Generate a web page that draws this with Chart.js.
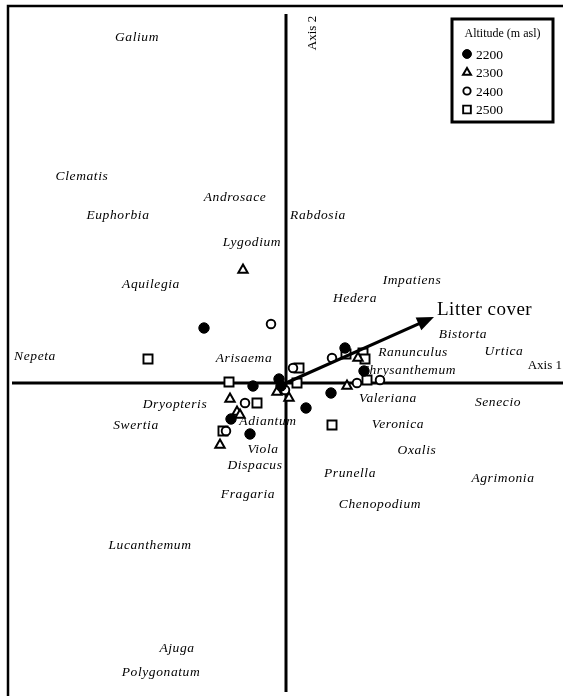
<!DOCTYPE html>
<html><head><meta charset="utf-8">
<script src="https://cdn.jsdelivr.net/npm/chart.js@4/dist/chart.umd.min.js"></script>
<style>html,body{margin:0;padding:0;background:#fff}canvas{display:block}</style>
</head><body>
<canvas id="c" width="563" height="696"></canvas>
<script>
// CCA ordination scores: sites grouped by altitude, species centroids, one environmental vector
const altitudes = ['2200', '2300', '2400', '2500'];

const sites2200 = [[-0.82,0.55],[-0.07,0.04],[-0.05,-0.03],[-0.33,-0.03],[0.59,0.35],[0.78,0.12],[0.45,-0.10],[0.20,-0.25],[-0.55,-0.36],[-0.36,-0.51]];
const sites2300 = [[-0.43,1.13],[-0.56,-0.16],[-0.49,-0.29],[-0.46,-0.32],[-0.66,-0.62],[-0.09,-0.09],[0.03,-0.15],[0.61,-0.03],[0.72,0.25]];
const sites2400 = [[-0.15,0.59],[-0.41,-0.20],[0.46,0.25],[0.71,0.00],[0.94,0.03],[0.07,0.15],[-0.01,-0.07],[-0.60,-0.48]];
const sites2500 = [[-1.38,0.24],[-0.57,0.01],[-0.29,-0.20],[0.13,0.15],[0.11,0.00],[0.77,0.30],[0.79,0.24],[0.81,0.03],[0.46,-0.42],[-0.63,-0.48],[0.60,0.29]];

const speciesNames = ['Galium','Clematis','Androsace','Euphorbia','Rabdosia','Lygodium','Impatiens','Aquilegia','Hedera','Bistorta','Nepeta','Arisaema','Ranunculus','Urtica','Chrysanthemum','Dryopteris','Valeriana','Senecio','Swertia','Adiantum','Veronica','Viola','Oxalis','Dispacus','Prunella','Agrimonia','Fragaria','Chenopodium','Lucanthemum','Ajuga','Polygonatum'];
const speciesX = [-1.49,-2.04,-0.51,-1.68,0.32,-0.34,1.26,-1.35,0.69,1.77,-2.51,-0.42,1.27,2.18,1.22,-1.11,1.02,2.12,-1.50,-0.18,1.12,-0.23,1.31,-0.31,0.64,2.17,-0.38,0.94,-1.36,-1.09,-1.25];
const speciesY = [3.46,2.07,1.86,1.68,1.68,1.41,1.03,0.99,0.85,0.49,0.27,0.25,0.31,0.32,0.13,-0.21,-0.15,-0.19,-0.42,-0.38,-0.41,-0.66,-0.67,-0.82,-0.90,-0.95,-1.11,-1.21,-1.62,-2.65,-2.89];

const envName = 'Litter cover';
const envVector = [1.48, 0.66];

const axis1Extent = [-2.74, 2.77];
const axis2Extent = [-3.09, 3.69];

const toPts = arr => arr.map(p => ({x: p[0], y: p[1]}));
const SERIF = '"Liberation Serif", "DejaVu Serif", serif';

const markerStyles = [
  {pointStyle: 'circle', radius: 5.2, bg: '#000', bw: 1},
  {pointStyle: 'triangle', radius: 5.4, bg: '#fff', bw: 2},
  {pointStyle: 'circle', radius: 4.3, bg: '#fff', bw: 1.9},
  {pointStyle: 'rect', radius: 6.4, bg: '#fff', bw: 1.9}
];
const siteGroups = [sites2200, sites2300, sites2400, sites2500];

const siteDatasets = siteGroups.map((g, i) => ({
  type: 'scatter',
  label: altitudes[i],
  data: toPts(g),
  pointStyle: markerStyles[i].pointStyle,
  pointRadius: markerStyles[i].radius,
  pointBackgroundColor: markerStyles[i].bg,
  pointBorderColor: '#000',
  pointBorderWidth: markerStyles[i].bw,
  order: 2
}));

const axisDatasets = [
  {type: 'line', data: [{x: axis1Extent[0], y: 0}, {x: axis1Extent[1], y: 0}], borderColor: '#000', borderWidth: 3, pointRadius: 0, order: 5},
  {type: 'line', data: [{x: 0, y: axis2Extent[0]}, {x: 0, y: axis2Extent[1]}], borderColor: '#000', borderWidth: 3, pointRadius: 0, order: 5}
];

const vectorDataset = {type: 'line', data: [{x: 0, y: 0}, {x: envVector[0] * 0.93, y: envVector[1] * 0.93}], borderColor: '#000', borderWidth: 3.2, pointRadius: 0, order: 1};

const overlay = {
  id: 'overlay',
  afterDatasetsDraw(chart) {
    const {ctx, chartArea: a, scales: {x, y}} = chart;
    ctx.save();
    // frame (top and left edges)
    ctx.strokeStyle = '#000';
    ctx.lineWidth = 2.5;
    ctx.beginPath();
    ctx.moveTo(a.left, a.bottom);
    ctx.lineTo(a.left, a.top);
    ctx.lineTo(a.right, a.top);
    ctx.stroke();

    // arrowhead for the environmental vector
    const x0 = x.getPixelForValue(0), y0 = y.getPixelForValue(0);
    const x1 = x.getPixelForValue(envVector[0]), y1 = y.getPixelForValue(envVector[1]);
    const ang = Math.atan2(y1 - y0, x1 - x0);
    const L = 17, W = 7;
    ctx.fillStyle = '#000';
    ctx.beginPath();
    ctx.moveTo(x1, y1);
    ctx.lineTo(x1 - L * Math.cos(ang) + W * Math.sin(ang), y1 - L * Math.sin(ang) - W * Math.cos(ang));
    ctx.lineTo(x1 - L * Math.cos(ang) - W * Math.sin(ang), y1 - L * Math.sin(ang) + W * Math.cos(ang));
    ctx.closePath();
    ctx.fill();
    ctx.font = '19px ' + SERIF;
    ctx.textAlign = 'left';
    ctx.textBaseline = 'middle';
    if ('letterSpacing' in ctx) ctx.letterSpacing = '0.5px';
    ctx.fillText(envName, x1 + 3, y1 - 7);

    // species names
    ctx.font = 'italic 13.5px ' + SERIF;
    ctx.textAlign = 'center';
    ctx.textBaseline = 'middle';
    if ('letterSpacing' in ctx) ctx.letterSpacing = '0.6px';
    speciesNames.forEach((n, i) => {
      ctx.fillText(n, x.getPixelForValue(speciesX[i]), y.getPixelForValue(speciesY[i]));
    });
    if ('letterSpacing' in ctx) ctx.letterSpacing = '0px';

    // axis titles
    ctx.font = '13px ' + SERIF;
    ctx.textAlign = 'right';
    ctx.fillText('Axis 1', a.right - 1, y0 - 17);
    ctx.save();
    ctx.translate(x0 + 27, a.top + 27);
    ctx.rotate(-Math.PI / 2);
    ctx.textAlign = 'center';
    ctx.fillText('Axis 2', 0, 0);
    ctx.restore();

    // legend box
    const bx = a.right - 111, by = a.top + 13, bw = 101, bh = 103;
    ctx.fillStyle = '#fff';
    ctx.fillRect(bx, by, bw, bh);
    ctx.strokeStyle = '#000';
    ctx.lineWidth = 3;
    ctx.strokeRect(bx, by, bw, bh);
    ctx.fillStyle = '#000';
    ctx.font = '12px ' + SERIF;
    ctx.textAlign = 'center';
    ctx.fillText('Altitude (m asl)', bx + bw / 2, by + 15);
    ctx.textAlign = 'left';
    altitudes.forEach((alt, i) => {
      const ly = by + 35 + i * 18.5;
      const ms = markerStyles[i];
      ctx.fillStyle = ms.bg;
      ctx.strokeStyle = '#000';
      ctx.lineWidth = ms.bw;
      Chart.helpers.drawPoint(ctx, {pointStyle: ms.pointStyle, radius: ms.radius * 0.85, borderWidth: ms.bw}, bx + 15, ly);
      ctx.fillStyle = '#000';
      ctx.font = '13.5px ' + SERIF;
      ctx.fillText(alt, bx + 24, ly + 1);
    });
    ctx.restore();
  }
};

new Chart(document.getElementById('c'), {
  type: 'scatter',
  data: {datasets: [...axisDatasets, ...siteDatasets, vectorDataset]},
  options: {
    responsive: false,
    animation: false,
    layout: {autoPadding: false, padding: {left: 8, top: 6, right: 0, bottom: 0}},
    scales: {
      x: {type: 'linear', min: -2.78, max: 2.77, display: false},
      y: {type: 'linear', min: -3.13, max: 3.77, display: false}
    },
    plugins: {legend: {display: false}, tooltip: {enabled: false}}
  },
  plugins: [overlay]
});
</script></body></html>
